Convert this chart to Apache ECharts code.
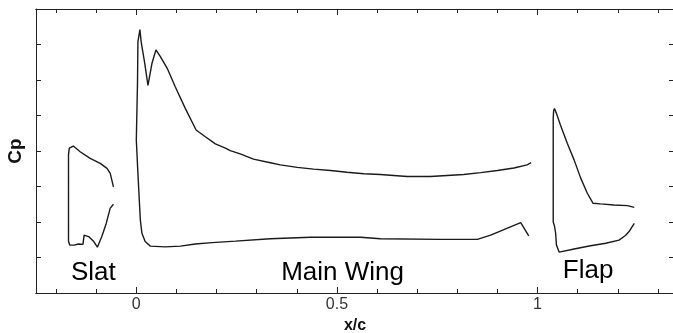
<!DOCTYPE html>
<html>
<head>
<meta charset="utf-8">
<script src="https://cdn.jsdelivr.net/npm/echarts@6/dist/echarts.min.js"></script>
<style>
html,body{margin:0;padding:0;background:#fff;}
#chart{width:673px;height:333px;}
</style>
</head>
<body>
<div id="chart"></div>
<script>
// Slat: upper trailing edge -> leading edge -> lower trailing edge
var slatX = [-0.057,-0.065,-0.073,-0.090,-0.115,-0.140,-0.157,-0.160,-0.167,-0.169,-0.169,-0.166,-0.162,-0.155,-0.144,-0.133,-0.130,-0.119,-0.106,-0.097,-0.086,-0.075,-0.065,-0.057];
var slatCp = [-0.99,-1.37,-1.51,-1.65,-1.79,-1.98,-2.14,-2.19,-2.08,-1.89,0.54,0.65,0.70,0.65,0.62,0.63,0.37,0.41,0.55,0.71,0.41,0.04,-0.39,-0.50];

// Main wing
var mainX = [0.984,0.974,0.941,0.900,0.858,0.816,0.733,0.675,0.608,0.567,0.525,0.484,0.442,0.401,0.359,0.334,0.292,0.259,0.234,0.222,0.197,0.172,0.149,0.122,0.097,0.077,0.060,0.049,0.039,0.029,0.021,0.012,0.009,0.004,0.003,0.000,0.000,0.004,0.007,0.010,0.014,0.022,0.035,0.072,0.110,0.147,0.189,0.247,0.334,0.434,0.559,0.608,0.758,0.850,0.883,0.958,0.978];
var mainCp = [-1.67,-1.61,-1.52,-1.45,-1.39,-1.34,-1.28,-1.28,-1.34,-1.36,-1.40,-1.45,-1.49,-1.54,-1.61,-1.67,-1.77,-1.92,-2.01,-2.08,-2.20,-2.40,-2.59,-3.20,-3.81,-4.33,-4.66,-4.85,-4.47,-3.85,-4.47,-5.08,-5.42,-5.08,-3.94,-3.89,-2.31,-1.37,-0.71,-0.06,0.32,0.55,0.68,0.70,0.68,0.62,0.58,0.54,0.47,0.43,0.43,0.47,0.49,0.49,0.37,0.02,0.39];

// Flap
var flapX = [1.241,1.224,1.190,1.157,1.138,1.124,1.107,1.091,1.074,1.057,1.047,1.042,1.040,1.039,1.039,1.042,1.045,1.047,1.054,1.057,1.091,1.132,1.170,1.203,1.219,1.228,1.241];
var flapCp = [-0.41,-0.46,-0.48,-0.51,-0.53,-0.81,-1.25,-1.75,-2.22,-2.73,-3.06,-3.20,-3.13,-2.93,0.00,0.11,0.31,0.65,0.85,0.85,0.76,0.67,0.60,0.51,0.38,0.27,0.04];

// Tick labels / positions
var xMinorTicks = [-0.2,-0.1,0.1,0.2,0.3,0.4,0.6,0.7,0.8,0.9,1.1,1.2,1.3];
var xMajorTicks = [0,0.5,1];
var xTickLabels = ['0','0.5','1'];

// Element annotations (data coordinates)
var annoNames = ['Slat','Main Wing','Flap'];
var annoX = [-0.107,0.514,1.126];
var annoCp = [1.44,1.44,1.38];

function pairs(xs, ys){ return xs.map(function(x,i){ return [x, ys[i]]; }); }

var X_MIN = -0.25, X_MAX = 1.34, Y_MIN = -6, Y_MAX = 2;
var frameColor = '#222';
var tickFont = {fontFamily:'Liberation Sans Narrow, Liberation Sans, Arial, sans-serif', fontSize:16, color:'#333'};

function xAx(pos, opts){
  return Object.assign({
    type:'value', position:pos, min:X_MIN, max:X_MAX,
    axisLine:{show:true, onZero:false, lineStyle:{color:frameColor, width:1}},
    splitLine:{show:false},
    axisLabel:{show:false},
    axisTick:{show:false}
  }, opts);
}
function yAx(pos){
  return {
    type:'value', position:pos, min:Y_MIN, max:Y_MAX, interval:1, inverse:true,
    axisLine:{show:true, onZero:false, lineStyle:{color:frameColor, width:1}},
    splitLine:{show:false},
    axisLabel:{show:false},
    axisTick:{show:true, inside:true, length:5, lineStyle:{color:frameColor}},
    name: pos==='left' ? 'Cp' : '',
    nameLocation:'middle', nameGap:11, nameRotate:90,
    nameTextStyle:{fontFamily:'Liberation Sans, Arial, sans-serif', fontWeight:'bold', fontSize:19, color:'#111'}
  };
}

var chart = echarts.init(document.getElementById('chart'), null, {renderer:'canvas'});
var lineStyle = {color:'#1a1a1a', width:1.4};
chart.setOption({
  animation:false,
  backgroundColor:'#fff',
  grid:{left:36, top:9, width:638, height:284, containLabel:false, outerBoundsMode:'none'},
  xAxis:[
    xAx('bottom', {
      axisTick:{show:true, inside:true, length:6, customValues:xMajorTicks, lineStyle:{color:frameColor}},
      axisLabel:Object.assign({show:true, margin:4, customValues:xMajorTicks,
        formatter:function(v){ var i = xMajorTicks.indexOf(Math.round(v*100)/100); return i>=0 ? xTickLabels[i] : ''; }}, tickFont),
      name:'x/c', nameLocation:'middle', nameGap:21,
      nameTextStyle:{fontFamily:'Liberation Sans, Arial, sans-serif', fontWeight:'bold', fontSize:16, color:'#111'}
    }),
    xAx('bottom', {axisTick:{show:true, inside:true, length:4, customValues:xMinorTicks, lineStyle:{color:frameColor}}}),
    xAx('top', {axisTick:{show:true, inside:true, length:6, customValues:xMajorTicks, lineStyle:{color:frameColor}}}),
    xAx('top', {axisTick:{show:true, inside:true, length:4, customValues:xMinorTicks, lineStyle:{color:frameColor}}})
  ],
  yAxis:[ yAx('left'), yAx('right') ],
  series:[
    {type:'line', name:'Slat', data:pairs(slatX, slatCp), showSymbol:false, symbol:'none', lineStyle:lineStyle, silent:true},
    {type:'line', name:'Main Wing', data:pairs(mainX, mainCp), showSymbol:false, symbol:'none', lineStyle:lineStyle, silent:true},
    {type:'line', name:'Flap', data:pairs(flapX, flapCp), showSymbol:false, symbol:'none', lineStyle:lineStyle, silent:true},
    {type:'scatter', silent:true, symbolSize:2, itemStyle:{color:'rgba(0,0,0,0)'},
     data:annoNames.map(function(n,i){ return {name:n, value:[annoX[i], annoCp[i]]}; }),
     labelLayout:{hideOverlap:false},
     label:{show:true, position:'inside', formatter:'{b}', fontFamily:'Liberation Sans, Arial, sans-serif', fontSize:26, color:'#000', opacity:1}}
  ]
});
</script>
</body>
</html>
